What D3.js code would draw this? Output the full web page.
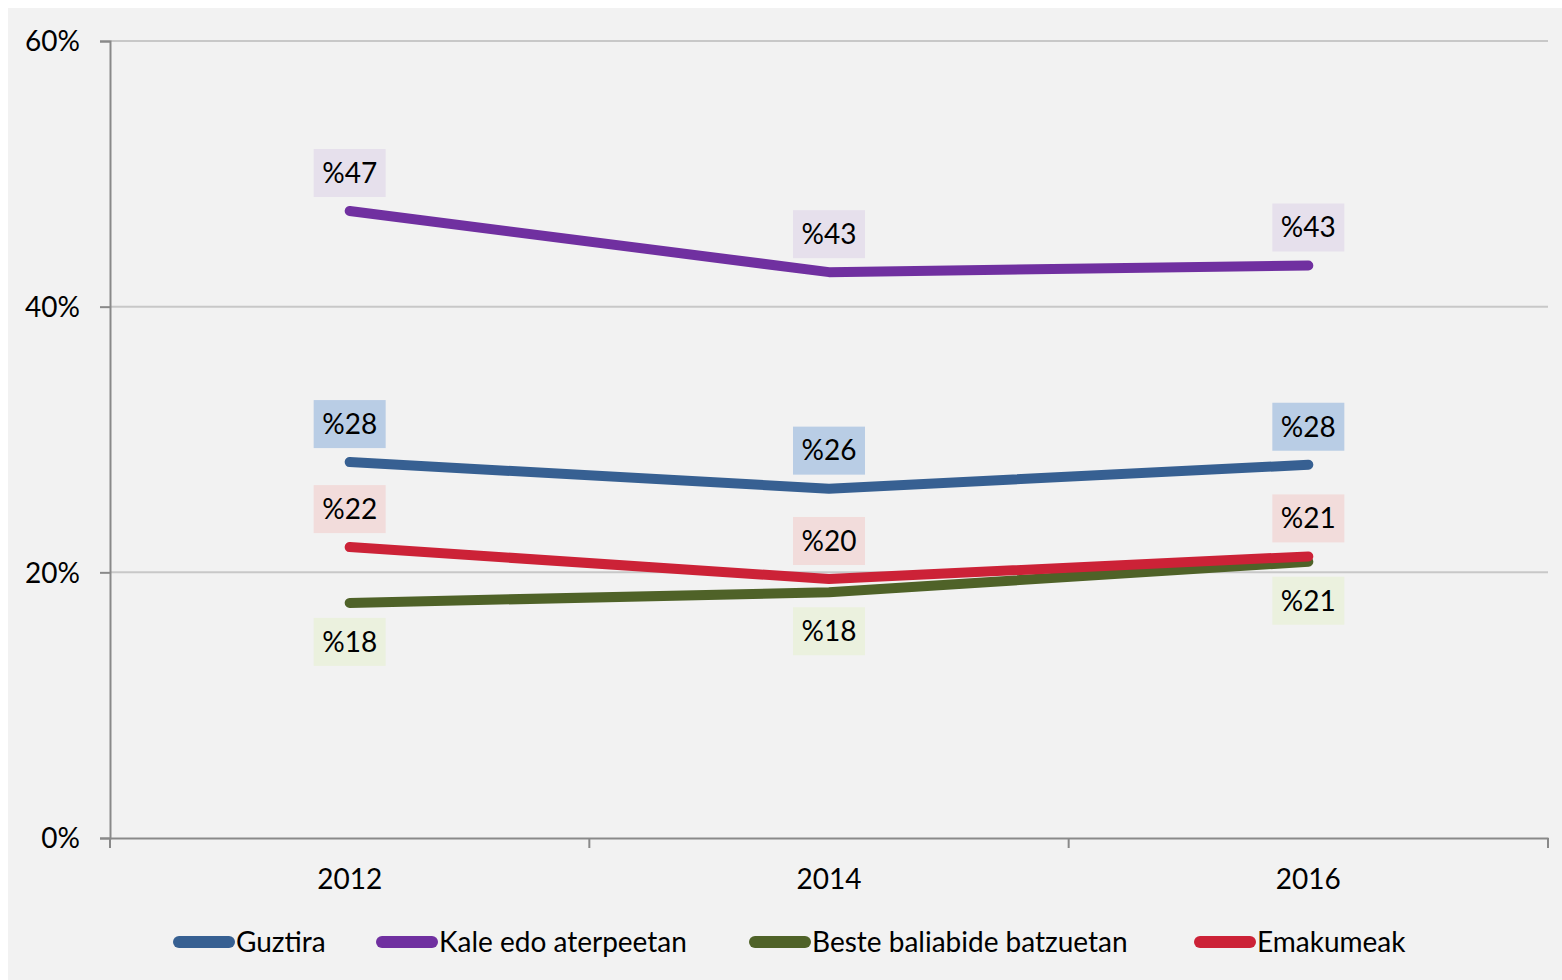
<!DOCTYPE html>
<html>
<head>
<meta charset="utf-8">
<script src="https://cdn.jsdelivr.net/npm/d3@7"></script>
<style>
  body { margin: 0; background: #ffffff; }
  text { font-family: Lato, "Open Sans", sans-serif; fill: #000; }
</style>
</head>
<body>
<div id="chart"></div>
<script>
// datuak
let years = ['2012', '2014', '2016'];
let seriesNames = ['Guztira', 'Kale edo aterpeetan', 'Beste baliabide batzuetan', 'Emakumeak'];
let guztira = [28.3, 26.3, 28.1];
let kale = [47.2, 42.6, 43.1];
let beste = [17.7, 18.5, 20.8];
let emakumeak = [21.9, 19.5, 21.2];
let labelsGuztira = ['%28', '%26', '%28'];
let labelsKale = ['%47', '%43', '%43'];
let labelsBeste = ['%18', '%18', '%21'];
let labelsEmakumeak = ['%22', '%20', '%21'];
let yTicks = [0, 20, 40, 60];

let lineColors = ['#376092', '#7030a0', '#4f6228', '#cc2237'];
let boxColors = ['#b9cde5', '#e6e0ec', '#ebf1de', '#f2dcdb'];

let series = [
  { name: seriesNames[0], values: guztira, labels: labelsGuztira, above: true },
  { name: seriesNames[1], values: kale, labels: labelsKale, above: true },
  { name: seriesNames[2], values: beste, labels: labelsBeste, above: false },
  { name: seriesNames[3], values: emakumeak, labels: labelsEmakumeak, above: true }
];

let width = 1562;
let height = 980;

let svg = d3.select('#chart').append('svg').attr('width', width).attr('height', height);

svg.append('rect').attr('x', 8).attr('y', 8).attr('width', width - 8).attr('height', height - 8)
   .attr('fill', '#f2f2f2');

let x = d3.scaleBand().domain(years).range([110, 1548]);
let y = d3.scaleLinear().domain([0, 60]).range([838, 41]);

// gridlines
svg.append('g').selectAll('line.grid')
   .data(yTicks.filter(d => d > 0))
   .enter().append('line')
     .attr('class', 'grid')
     .attr('x1', 110).attr('x2', 1548)
     .attr('y1', d => y(d)).attr('y2', d => y(d))
     .attr('stroke', '#c8c8c8').attr('stroke-width', 2);

// y axis
let yAxis = d3.axisLeft(y).tickValues(yTicks).tickSize(10).tickPadding(20).tickFormat(d => d + '%');
let gy = svg.append('g').attr('transform', 'translate(110,0)').call(yAxis);
gy.select('.domain').attr('stroke', '#898989').attr('stroke-width', 2);
gy.selectAll('.tick line').attr('stroke', '#898989').attr('stroke-width', 2);
gy.selectAll('.tick text').style('font-size', '28px').attr('dy', '0.35em');

// x axis
let xAxis = d3.axisBottom(x).tickSize(0).tickPadding(31);
let gx = svg.append('g').attr('transform', 'translate(0,838)').call(xAxis);
gx.select('.domain').attr('stroke', '#898989').attr('stroke-width', 2);
gx.selectAll('.tick text').style('font-size', '28px');

// x tick marks between categories
let bounds = [110].concat(years.map(d => x(d) + x.bandwidth()));
svg.append('g').selectAll('line.xt')
   .data(bounds)
   .enter().append('line')
     .attr('x1', d => d).attr('x2', d => d)
     .attr('y1', 838).attr('y2', 848)
     .attr('stroke', '#898989').attr('stroke-width', 2);

let line = d3.line()
   .x((d, i) => x(years[i]) + x.bandwidth() / 2)
   .y(d => y(d));

// lines, drawn in order
series.forEach(function (s, k) {
  svg.append('path')
     .attr('fill', 'none')
     .attr('stroke', lineColors[k])
     .attr('stroke-width', 10)
     .attr('stroke-linecap', 'round')
     .attr('stroke-linejoin', 'round')
     .attr('d', line(s.values));
});

// data labels
series.forEach(function (s, k) {
  let g = svg.append('g');
  s.values.forEach(function (v, i) {
    let cx = x(years[i]) + x.bandwidth() / 2;
    let cy = y(v) + (s.above ? -38 : 39);
    g.append('rect')
     .attr('x', cx - 36).attr('y', cy - 24)
     .attr('width', 72).attr('height', 48)
     .attr('fill', boxColors[k]);
    g.append('text')
     .attr('x', cx).attr('y', cy)
     .attr('text-anchor', 'middle')
     .attr('dy', '0.35em')
     .style('font-size', '28px')
     .text(s.labels[i]);
  });
});

// legend
let legendX = [173, 376, 749, 1194];
let legend = svg.append('g');
seriesNames.forEach(function (n, k) {
  legend.append('line')
     .attr('x1', legendX[k] + 6).attr('x2', legendX[k] + 56)
     .attr('y1', 942).attr('y2', 942)
     .attr('stroke', lineColors[k]).attr('stroke-width', 12)
     .attr('stroke-linecap', 'round');
  legend.append('text')
     .attr('x', legendX[k] + 63).attr('y', 942)
     .attr('dy', '0.35em')
     .style('font-size', '28px')
     .text(n);
});
</script>
</body>
</html>
